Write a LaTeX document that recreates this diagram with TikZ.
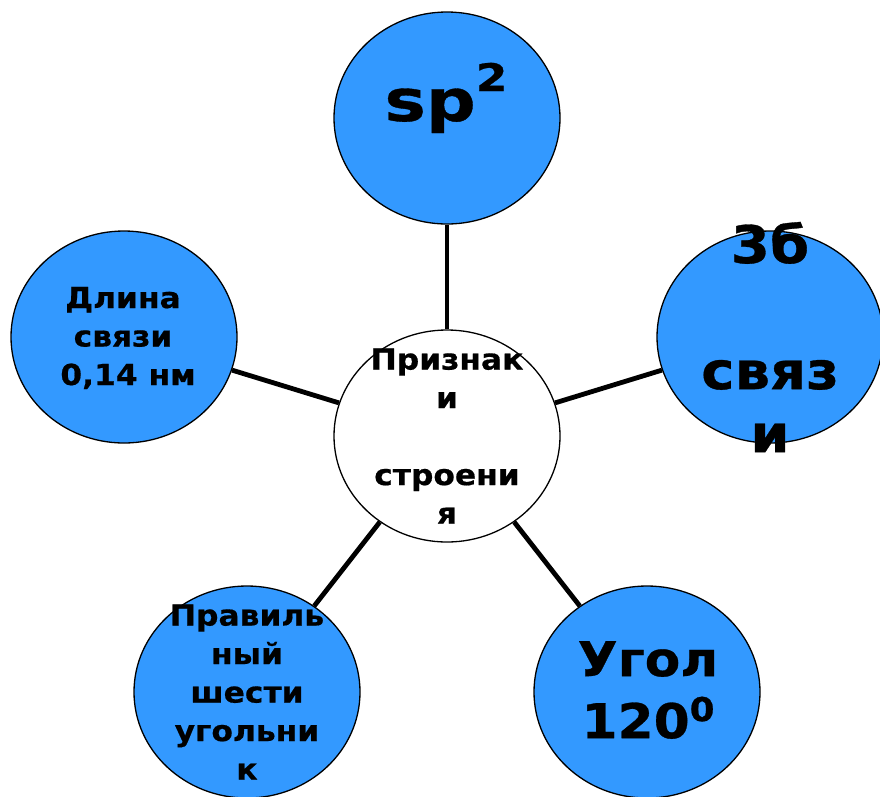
\documentclass[tikz,border=0pt]{standalone}
\usepackage{fontspec}
\setmainfont{DejaVu Sans}[FakeStretch=1.08,BoldFeatures={FakeBold=0.6}]
\newfontfamily\spfont{DejaVu Sans}[FakeStretch=1.2,BoldFeatures={FakeBold=0.6}]
\usetikzlibrary{shapes.geometric}
\definecolor{bub}{RGB}{51,153,255}
\begin{document}
\begin{tikzpicture}[x=1pt,y=-1pt,
  bubble/.style={ellipse,draw=black,line width=1.3pt,fill=bub,minimum width=226pt,minimum height=212pt,inner sep=0pt},
  hub/.style={bubble,fill=white},
  link/.style={line width=4.8pt},
  small/.style={font=\bfseries\fontsize{29}{38.5}\selectfont,align=center,inner sep=0pt},
  big/.style={font=\bfseries\fontsize{48}{62}\selectfont,align=center,inner sep=0pt}]
\useasboundingbox (0,0) rectangle (880,796);
\clip (0,0) rectangle (880,796);
\node[hub] (c) at (447,436) {};
\node[bubble] (top) at (447,118) {};
\node[bubble] (lft) at (124,337) {};
\node[bubble] (rgt) at (770,337) {};
\node[bubble] (bl) at (247,692) {};
\node[bubble] (br) at (647,692) {};
\draw[link] (c) -- (top);
\draw[link] (c) -- (lft);
\draw[link] (c) -- (rgt);
\draw[link] (c) -- (bl);
\draw[link] (c) -- (br);
\node[small] (tc) at (447,436) {Признак\\и\\[38.5pt]строени\\я};
\node[small] (tl) at (123,338) {Длина\\связи\\\hspace*{0.35em}0,14 нм};
\node[small] (tbl) at (247,692) {Правиль\\ный\\шести\\угольни\\к};
\node[big,font=\bfseries\fontsize{52}{63}\selectfont] (tr) at (770,337) {3б\\[63pt]связ\\и};
\node[big,font=\spfont\bfseries\fontsize{58}{62}\selectfont,anchor=base] (tt) at (446,121) {sp\raisebox{30pt}{\fontsize{38}{38}\selectfont 2}};
\node[big] (tbr) at (648,690) {Угол\\120\raisebox{17pt}{\fontsize{33}{33}\selectfont 0}};
\end{tikzpicture}
\end{document}
